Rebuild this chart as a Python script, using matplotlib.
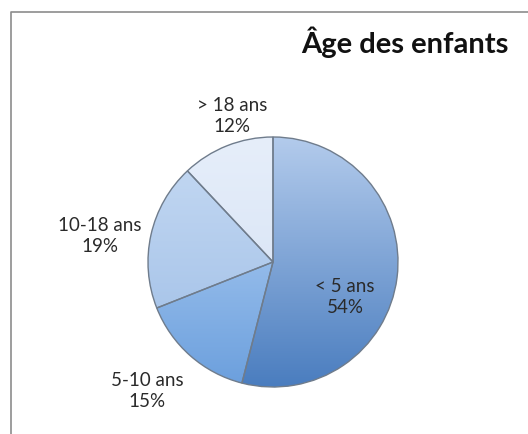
import numpy as np
import matplotlib.pyplot as plt
from matplotlib.colors import LinearSegmentedColormap

categories = ["< 5 ans", "5-10 ans", "10-18 ans", "> 18 ans"]
values = [54, 15, 19, 12]
title = "Âge des enfants"

# top / bottom shade of each slice
shades = [("#b3cbec", "#4a7dbf"),
          ("#bcd7f7", "#6b9fdd"),
          ("#c6daf3", "#9dbde6"),
          ("#e6eefa", "#d2e0f4")]

plt.rcParams['font.family'] = ['Lato', 'DejaVu Sans']

fig = plt.figure(figsize=(5.28, 4.34), dpi=100)
ax = fig.add_axes([0, 0, 1, 1])

cx, cy, r = 273, 172, 125
wedges, _ = ax.pie(values, startangle=90, counterclock=False, center=(cx, cy),
                   radius=r, frame=True,
                   wedgeprops=dict(edgecolor="#6f7c8c", linewidth=1.0))
ax.set_xlim(0, 528)
ax.set_ylim(0, 434)
ax.set_aspect('equal')
ax.axis('off')

grad = np.linspace(1, 0, 256).reshape(-1, 1)
for w, (top, bot) in zip(wedges, shades):
    w.set_facecolor("none")
    cmap = LinearSegmentedColormap.from_list("s", [bot, top])
    im = ax.imshow(grad, cmap=cmap, extent=(cx - r, cx + r, cy - r, cy + r),
                   origin='upper', aspect='auto', zorder=0.5)
    im.set_clip_path(w)

# labels
lab_pos = [(345, 137), (147, 43), (100, 198), (232, 318)]
for name, v, (x, y) in zip(categories, values, lab_pos):
    ax.text(x, y, f"{name}\n{v}%", ha='center', va='center', fontsize=13.5,
            color="#2a2a2a", linespacing=1.25)

ax.text(509, 392, title, ha='right', va='center', fontsize=21,
        fontweight='bold', color="#111111")

# chart frame
ax.plot([11, 11, 528], [0, 422, 422], color="#8c8c8c", linewidth=1.2)

fig.savefig("out.png", dpi=100)
